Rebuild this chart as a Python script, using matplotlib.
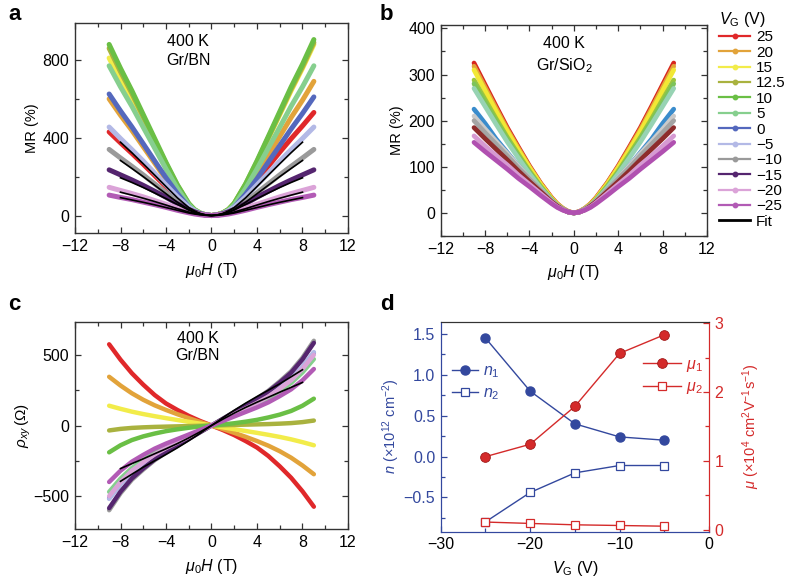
import numpy as np
import matplotlib.pyplot as plt
from matplotlib.lines import Line2D
from matplotlib.ticker import MultipleLocator

plt.rcParams['font.family'] = ['Liberation Sans', 'DejaVu Sans']
plt.rcParams['mathtext.fontset'] = 'custom'
plt.rcParams['mathtext.rm'] = 'Liberation Sans'
plt.rcParams['mathtext.it'] = 'Liberation Sans:italic'
plt.rcParams['mathtext.bf'] = 'Liberation Sans:bold'
plt.rcParams['font.size'] = 10.5

# gate voltages (legend order) and colours
gate_labels = ['25', '20', '15', '12.5', '10', '5', '0',
               '\u22125', '\u221210', '\u221215', '\u221220', '\u221225']
colors = ['#e0282a', '#e2a33a', '#f2ec4a', '#a9b23f', '#6abf45', '#86cf8e',
          '#5468bd', '#b3b9e6', '#9a9a9a', '#55256f', '#dba3d8', '#b25bb5']
colors_b = ['#d8261e', '#e2a33a', '#f2e834', '#9cc63c', '#7dc35a', '#97d3b3',
            '#3a8ccc', '#cacaca', '#a4a4a4', '#8e2c2c', '#d69ad2', '#b050b0']

# ---- panel a: MR (%) vs field, Gr/BN (positive and negative field halves)
h_ab = [0, 0.5, 1, 1.5, 2, 3, 4, 5, 6, 7, 8, 9]
mr_a_pos = [
    [0, 4, 13, 29, 50, 111, 183, 254, 326, 395, 461, 530],
    [0, 3, 10, 24, 48, 124, 214, 311, 407, 504, 593, 690],
    [0, 4, 13, 31, 62, 158, 273, 396, 519, 642, 757, 880],
    [0, 4, 13, 31, 62, 160, 276, 401, 525, 650, 765, 890],
    [0, 4, 14, 32, 63, 163, 281, 407, 534, 661, 778, 905],
    [0, 3, 12, 27, 54, 139, 239, 347, 454, 562, 662, 770],
    [0, 2, 9, 21, 43, 110, 189, 275, 360, 445, 525, 610],
    [0, 3, 11, 25, 43, 96, 157, 218, 280, 339, 396, 455],
    [0, 2, 9, 19, 32, 71, 117, 163, 209, 253, 296, 340],
    [0, 3, 9, 19, 31, 61, 94, 125, 155, 183, 209, 235],
    [0, 2, 6, 12, 19, 38, 58, 77, 96, 113, 129, 145],
    [0, 1, 4, 8, 14, 27, 42, 56, 69, 82, 93, 105],
]
mr_a_neg = [
    [0, 3, 11, 24, 41, 90, 148, 206, 264, 320, 374, 430],
    [0, 2, 9, 21, 42, 108, 186, 270, 354, 438, 516, 600],
    [0, 3, 12, 28, 57, 146, 251, 365, 478, 591, 697, 810],
    [0, 3, 13, 30, 60, 155, 267, 387, 507, 628, 740, 860],
    [0, 4, 13, 31, 62, 158, 273, 396, 519, 642, 757, 880],
    [0, 3, 12, 27, 54, 139, 239, 347, 454, 562, 662, 770],
    [0, 3, 9, 22, 44, 113, 194, 281, 369, 456, 538, 625],
    [0, 3, 11, 25, 43, 96, 157, 218, 280, 339, 396, 455],
    [0, 2, 9, 19, 32, 71, 117, 163, 209, 253, 296, 340],
    [0, 3, 9, 19, 31, 61, 94, 125, 155, 183, 209, 235],
    [0, 2, 6, 12, 19, 38, 58, 77, 96, 113, 129, 145],
    [0, 1, 4, 8, 14, 27, 42, 56, 69, 82, 93, 105],
]
h_fit_a = [0, 0.5, 1, 1.5, 2, 3, 4, 5, 6, 7, 8]
fit_a = [
    [0, 3, 11, 24, 41, 91, 149, 208, 266, 323, 377],
    [0, 2, 8, 18, 31, 68, 112, 156, 200, 242, 283],
    [0, 3, 9, 17, 28, 57, 87, 116, 144, 170, 194],
    [0, 2, 5, 11, 18, 35, 54, 72, 89, 105, 120],
    [0, 1, 4, 8, 13, 27, 41, 55, 68, 80, 92],
]

# ---- panel b: MR (%) vs field, Gr/SiO2 (symmetric)
mr_b = [
    [0, 3, 10, 20, 33, 65, 102, 143, 185, 231, 278, 325],
    [0, 3, 10, 19, 32, 64, 100, 140, 181, 226, 272, 318],
    [0, 2, 9, 19, 31, 62, 98, 136, 177, 220, 265, 310],
    [0, 2, 9, 17, 29, 58, 91, 127, 164, 204, 246, 288],
    [0, 2, 8, 17, 28, 56, 88, 123, 160, 199, 239, 280],
    [0, 2, 8, 16, 27, 54, 85, 119, 154, 192, 231, 270],
    [0, 2, 8, 15, 25, 49, 75, 102, 131, 160, 194, 225],
    [0, 2, 8, 16, 26, 50, 76, 102, 129, 155, 182, 210],
    [0, 2, 8, 16, 26, 50, 74, 98, 124, 149, 174, 200],
    [0, 2, 7, 15, 24, 46, 68, 91, 115, 138, 161, 185],
    [0, 2, 7, 13, 22, 42, 62, 82, 104, 124, 145, 167],
    [0, 2, 6, 12, 20, 38, 57, 75, 95, 114, 133, 153],
]

# ---- panel c: rho_xy (Ohm) vs field, Gr/BN (odd in field)
h_c = [0, 1, 2, 3, 4, 5, 6, 7, 8, 9]
rho_c = [
    [0, -32, -68, -110, -156, -216, -289, -370, -466, -575],
    [0, -25, -52, -80, -110, -143, -182, -228, -283, -345],
    [0, -13, -26, -39, -52, -66, -81, -98, -118, -140],
    [0, 2, 4, 6, 8, 10, 13, 17, 24, 35],
    [0, 7, 16, 27, 40, 57, 77, 103, 140, 190],
    [0, 38, 75, 113, 150, 193, 244, 301, 376, 470],
    [0, 41, 82, 124, 165, 211, 268, 330, 412, 515],
    [0, 42, 83, 125, 166, 213, 270, 333, 416, 520],
    [0, 48, 96, 144, 192, 246, 312, 384, 480, 600],
    [0, 47, 94, 140, 187, 240, 304, 374, 468, 585],
    [0, 40, 80, 120, 160, 205, 260, 320, 400, 500],
    [0, 32, 64, 96, 128, 164, 208, 256, 320, 400],
]
h_fit_c = [0, 1, 2, 3, 4, 5, 6, 7, 8]
fit_c = [
    [0, 55, 108, 158, 205, 250, 295, 345, 395],
    [0, 45, 88, 128, 165, 200, 236, 270, 305],
]

# ---- panel d: two-carrier fit parameters
vg = [-25, -20, -15, -10, -5]
n1 = [1.45, 0.80, 0.40, 0.24, 0.20]
n2 = [-0.80, -0.44, -0.20, -0.11, -0.11]
mu1 = [1.06, 1.24, 1.79, 2.56, 2.83]
mu2 = [0.11, 0.09, 0.07, 0.06, 0.05]

blue = '#33489e'
red = '#d42a2a'
frame = '#333333'
TICK = 11.5
LAB = 10.5


def both_sides(h, neg, pos, odd=False):
    h = np.asarray(h, float)
    neg = np.asarray(neg, float)
    pos = np.asarray(pos, float)
    left = -neg[:0:-1] if odd else neg[:0:-1]
    return np.concatenate([-h[:0:-1], h]), np.concatenate([left, pos])


def style_axes(ax, xmaj, xmin, ymaj, ymin):
    ax.xaxis.set_major_locator(MultipleLocator(xmaj))
    ax.xaxis.set_minor_locator(MultipleLocator(xmin))
    ax.yaxis.set_major_locator(MultipleLocator(ymaj))
    ax.yaxis.set_minor_locator(MultipleLocator(ymin))
    ax.tick_params(which='both', direction='in', top=True, right=True,
                   color=frame, labelsize=TICK, pad=4)
    ax.tick_params(which='major', length=4, width=0.9)
    ax.tick_params(which='minor', length=3, width=0.9)
    for s in ax.spines.values():
        s.set_color(frame)
        s.set_linewidth(1.0)


fig = plt.figure(figsize=(7.88, 5.83), dpi=100)
ax_a = fig.add_axes([0.0952, 0.6003, 0.3464, 0.3602])
ax_b = fig.add_axes([0.5593, 0.5952, 0.3379, 0.3624])
ax_c = fig.add_axes([0.0952, 0.0921, 0.3464, 0.3561])
ax_d = fig.add_axes([0.5593, 0.0880, 0.3405, 0.3602])

# panel a
for i in range(len(gate_labels)):
    x, y = both_sides(h_ab, mr_a_neg[i], mr_a_pos[i])
    ax_a.plot(x, y, color=colors[i], lw=3.6, solid_capstyle='round')
for f in fit_a:
    x, y = both_sides(h_fit_a, f, f)
    ax_a.plot(x, y, color='black', lw=1.2)
ax_a.set_xlim(-12, 12)
ax_a.set_ylim(-90, 990)
style_axes(ax_a, 4, 2, 400, 200)
ax_a.set_ylabel('MR (%)', fontsize=LAB, labelpad=3)
ax_a.set_xlabel(r'$\mu_0H$ (T)', fontsize=11.5, labelpad=5)
ax_a.text(0.414, 0.95, '400 K\nGr/BN', transform=ax_a.transAxes,
          ha='center', va='top', fontsize=11.5, linespacing=1.35)

# panel b
for i in range(len(gate_labels)):
    x, y = both_sides(h_ab, mr_b[i], mr_b[i])
    ax_b.plot(x, y, color=colors_b[i], lw=3.4, solid_capstyle='round')
ax_b.set_xlim(-12, 12)
ax_b.set_ylim(-50, 408)
style_axes(ax_b, 4, 2, 100, 50)
ax_b.set_ylabel('MR (%)', fontsize=LAB, labelpad=3)
ax_b.set_xlabel(r'$\mu_0H$ (T)', fontsize=11.5, labelpad=5)
ax_b.text(0.463, 0.945, '400 K\nGr/SiO$_2$', transform=ax_b.transAxes,
          ha='center', va='top', fontsize=11.5, linespacing=1.35)

handles = [Line2D([], [], color=c, lw=1.6, marker='o', ms=3.2) for c in colors]
handles.append(Line2D([], [], color='black', lw=2))
leg = fig.legend(handles, gate_labels + ['Fit'], loc='upper left',
                 bbox_to_anchor=(0.913, 0.983), frameon=False, fontsize=11,
                 title=r'$V_{\rm G}$ (V)', title_fontsize=11.5,
                 handlelength=2.0, handletextpad=0.4, labelspacing=0.09,
                 borderpad=0, borderaxespad=0, alignment='left')

# panel c
for i in range(len(gate_labels)):
    x, y = both_sides(h_c, rho_c[i], rho_c[i], odd=True)
    ax_c.plot(x, y, color=colors[i], lw=3.2, solid_capstyle='round')
for f in fit_c:
    x, y = both_sides(h_fit_c, f, f, odd=True)
    ax_c.plot(x, y, color='black', lw=1.2)
ax_c.set_xlim(-12, 12)
ax_c.set_ylim(-735, 735)
style_axes(ax_c, 4, 2, 500, 250)
ax_c.set_ylabel(r'$\rho_{xy}\,(\Omega)$', fontsize=11, labelpad=0)
ax_c.set_xlabel(r'$\mu_0H$ (T)', fontsize=11.5, labelpad=5)
ax_c.text(0.45, 0.955, '400 K\nGr/BN', transform=ax_c.transAxes,
          ha='center', va='top', fontsize=11.5, linespacing=1.2)

# panel d
ax_d2 = ax_d.twinx()
ln_n1, = ax_d.plot(vg, n1, color=blue, lw=1, marker='o', ms=6.5)
ln_n2, = ax_d.plot(vg, n2, color=blue, lw=1, marker='s', ms=6,
                   mfc='white', mec=blue, mew=0.9)
ln_m1, = ax_d2.plot(vg, mu1, color=red, lw=1, marker='o', ms=7,
                    mec='#a01818', mew=0.6)
ln_m2, = ax_d2.plot(vg, mu2, color=red, lw=1, marker='s', ms=6,
                    mfc='white', mec=red, mew=0.9)
ax_d.set_xlim(-30, 0)
ax_d.set_ylim(-0.92, 1.65)
ax_d2.set_ylim(-0.03, 3.02)
ax_d.xaxis.set_major_locator(MultipleLocator(10))
ax_d.xaxis.set_minor_locator(MultipleLocator(5))
ax_d.yaxis.set_major_locator(MultipleLocator(0.5))
ax_d.yaxis.set_minor_locator(MultipleLocator(0.25))
ax_d2.yaxis.set_major_locator(MultipleLocator(1))
ax_d2.yaxis.set_minor_locator(MultipleLocator(0.5))
ax_d.yaxis.set_major_formatter(plt.FuncFormatter(
    lambda v, p: ('%.1f' % v).replace('-', '\u2212')))
ax_d.tick_params(axis='x', which='both', direction='in', color=blue,
                 labelsize=TICK, pad=4)
ax_d.tick_params(axis='y', which='both', direction='in', color=blue,
                 labelcolor=blue, labelsize=TICK, pad=4)
ax_d2.tick_params(axis='y', which='both', direction='in', color=red,
                  labelcolor=red, labelsize=TICK, pad=4)
for ax in (ax_d, ax_d2):
    ax.tick_params(which='major', length=4, width=0.9)
    ax.tick_params(which='minor', length=3, width=0.9)
    ax.spines['left'].set_color(blue)
    ax.spines['bottom'].set_color(blue)
    ax.spines['right'].set_color(red)
    ax.spines['top'].set_color(frame)
ax_d.set_xlabel(r'$V_{\rm G}$ (V)', fontsize=11.5, labelpad=5)
ax_d.set_ylabel(r'$n$ ($\times$10$^{12}$ cm$^{-2}$)', color=blue,
                fontsize=LAB, labelpad=1)
ax_d2.set_ylabel(r'$\mu$ ($\times$10$^{4}$ cm$^{2}$V$^{-1}$s$^{-1}$)',
                 color=red, fontsize=LAB, labelpad=12)

leg_n = ax_d.legend([ln_n1, ln_n2], [r'$n_1$', r'$n_2$'], loc='center left',
                    bbox_to_anchor=(-0.01, 0.71), frameon=False, fontsize=11.5,
                    handlelength=1.6, handletextpad=0.3, labelspacing=0.35)
for t in leg_n.get_texts():
    t.set_color(blue)
leg_m = ax_d2.legend([ln_m1, ln_m2], [r'$\mu_1$', r'$\mu_2$'], loc='center left',
                     bbox_to_anchor=(0.70, 0.74), frameon=False, fontsize=11.5,
                     handlelength=2.4, handletextpad=0.3, labelspacing=0.35)
for t in leg_m.get_texts():
    t.set_color(red)

# panel letters
for lab, (px, py) in zip('abcd', [(8, 15), (380, 15), (8, 305), (380, 305)]):
    fig.text(px / 788, 1 - py / 583, lab, fontsize=16, fontweight='bold',
             ha='left', va='center')

fig.savefig('out.png', dpi=100)
